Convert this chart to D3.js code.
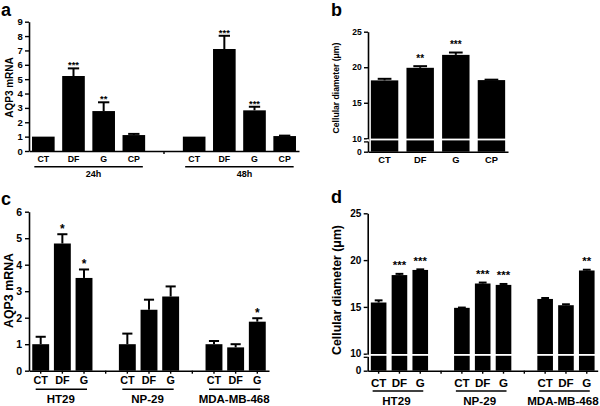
<!DOCTYPE html>
<html><head><meta charset="utf-8">
<script src="https://cdn.jsdelivr.net/npm/d3@7"></script>
<style>
body{margin:0;background:#fff}
svg{display:block}
text{font-family:"Liberation Sans",Arial,sans-serif;font-weight:bold;fill:#000}
</style>
</head><body><svg id="chart" width="600" height="406"></svg>
<script>
// ---------- data ----------
const catsA = ["CT","DF","G","CP"];
const groupsA = ["24h","48h"];
const meanA = [[1.0,5.22,2.78,1.11],[1.0,7.1,2.83,1.04]];
const errA  = [[0,0.53,0.61,0.08],[0,0.92,0.25,0.03]];
const starsA = [["","***","**",""],["","***","***",""]];
const yTicksA = [0,1,2,3,4,5,6,7,8,9];

const catsB = ["CT","DF","G","CP"];
const meanB = [18.15,19.92,21.74,18.19];
const errB  = [0.22,0.23,0.33,0.06];
const starsB = ["","**","***",""];
const yTicksB = [0,10,15,20,25];

const catsC = ["CT","DF","G"];
const groupsC = ["HT29","NP-29","MDA-MB-468"];
const meanC = [[1.0,4.8,3.5],[1.0,2.3,2.8],[1.0,0.88,1.85]];
const errC  = [[0.28,0.35,0.32],[0.4,0.38,0.38],[0.12,0.12,0.13]];
const starsC = [["","*","*"],["","",""],["","","*"]];
const yTicksC = [0,1,2,3,4,5,6];

const catsD = ["CT","DF","G"];
const groupsD = ["HT29","NP-29","MDA-MB-468"];
const meanD = [[15.47,18.4,18.95],[14.9,17.5,17.35],[15.85,15.18,18.89]];
const errD  = [[0.23,0.13,0.06],[0.03,0.1,0.1],[0.1,0.1,0.08]];
const starsD = [["","***","***"],["","***","***"],["","","**"]];
const yTicksD = [0,10,15,20,25];

// ---------- drawing ----------
const svg = d3.select("#chart");

function panel(o){
  const g = svg.append("g");
  const slots = [], items = [];
  o.groups.forEach((gr,gi)=>{
    if(gi>0) slots.push("gap"+gi);
    o.cats.forEach((c,ci)=>{
      const k = gi+"|"+c;
      slots.push(k);
      items.push({k, gi, c, v:o.mean[gi][ci], e:o.err[gi][ci], s:o.stars[gi][ci]});
    });
  });
  const x = d3.scaleBand().domain(slots).range(o.xRange).paddingInner(o.padIn).paddingOuter(o.padOut);
  const y = d3.scaleLinear().domain(o.yDomain).range(o.yRange);
  const bw = x.bandwidth();
  const y0 = y(0);

  // bars
  g.selectAll("rect.bar").data(items).enter().append("rect")
    .attr("x", d=>x(d.k)).attr("width", bw)
    .attr("y", d=>y(d.v)).attr("height", d=>y0-y(d.v)).attr("fill","#000");

  // error bars
  const eb = items.filter(d=>d.e>0);
  g.selectAll("line.ev").data(eb).enter().append("line")
    .attr("x1", d=>x(d.k)+bw/2).attr("x2", d=>x(d.k)+bw/2)
    .attr("y1", d=>y(d.v)).attr("y2", d=>y(d.v+d.e))
    .attr("stroke","#000").attr("stroke-width",o.ebw);
  g.selectAll("line.ec").data(eb).enter().append("line")
    .attr("x1", d=>x(d.k)+bw/2-bw*o.cap/2).attr("x2", d=>x(d.k)+bw/2+bw*o.cap/2)
    .attr("y1", d=>y(d.v+d.e)).attr("y2", d=>y(d.v+d.e))
    .attr("stroke","#000").attr("stroke-width",o.ebw);

  // stars
  g.selectAll("text.star").data(items.filter(d=>d.s)).enter().append("text")
    .attr("x", d=>x(d.k)+bw/2).attr("y", d=>y(d.v+d.e)-o.starOff)
    .attr("text-anchor","middle").style("font-size",o.starFs+"px").text(d=>d.s);

  // axis break (white line through bars)
  if(o.brk){
    g.append("rect").attr("x", o.xRange[0]).attr("width", o.xRange[1]-o.xRange[0])
      .attr("y", y(10)+0.3).attr("height", 1.8).attr("fill","#fff");
  }

  // y axis
  const ya = g.append("g").attr("transform",`translate(${o.xRange[0]},0)`)
    .call(d3.axisLeft(y).tickValues(o.yTicks).tickFormat(d3.format("d"))
      .tickSize(4).tickSizeOuter(0).tickPadding(o.yPad));
  ya.select(".domain").attr("stroke-width",1.6);
  ya.selectAll(".tick line").attr("stroke-width",1.4);
  ya.selectAll("text").style("font-size",o.yFs+"px").attr("font-family",null);
  if(o.brk){
    g.append("rect").attr("x", o.xRange[0]-1.2).attr("width",2.4)
      .attr("y", y(10)+1).attr("height",2.2).attr("fill","#fff");
    g.append("line").attr("x1",o.xRange[0]-4).attr("x2",o.xRange[0])
      .attr("y1",y(10)+3.6).attr("y2",y(10)+3.6).attr("stroke","#000").attr("stroke-width",1.3);
  }

  // x axis
  const xa = g.append("g").attr("transform",`translate(0,${y0})`)
    .call(d3.axisBottom(x).tickValues(items.map(d=>d.k)).tickFormat(k=>k.split("|")[1])
      .tickSize(o.xTick).tickSizeOuter(0).tickPadding(o.xPad));
  xa.select(".domain").attr("stroke-width",1.6);
  xa.selectAll(".tick line").attr("stroke-width",1.4);
  xa.selectAll("text").style("font-size",o.xFs+"px").attr("font-family",null);
  // gap ticks
  g.selectAll("line.gap").data(slots.filter(s=>s.startsWith("gap"))).enter().append("line")
    .attr("x1", s=>x(s)+bw/2).attr("x2", s=>x(s)+bw/2)
    .attr("y1", y0).attr("y2", y0+3).attr("stroke","#000").attr("stroke-width",1.4);

  // group lines & labels
  o.groups.forEach((gr,gi)=>{
    if(!gr) return;
    const first = x(gi+"|"+o.cats[0])+bw/2, last = x(gi+"|"+o.cats[o.cats.length-1])+bw/2;
    g.append("line").attr("x1", first+o.gl[0]).attr("x2", last+o.gl[1])
      .attr("y1", o.gLineY).attr("y2", o.gLineY).attr("stroke","#000").attr("stroke-width",1.5);
    g.append("text").attr("x",(first+last)/2+o.gOff).attr("y",o.gTextY)
      .attr("text-anchor","middle").style("font-size",o.gFs+"px").text(gr);
  });

  // y label
  g.append("text").attr("transform",`translate(${o.ylX},${o.ylY}) rotate(-90)`)
    .attr("text-anchor","middle").style("font-size",o.ylFs+"px").text(o.yLabel);
  // panel letter
  g.append("text").attr("x",o.letter[1]).attr("y",o.letter[2]).style("font-size","18px").text(o.letter[0]);
}

panel({groups:groupsA, cats:catsA, mean:meanA, err:errA, stars:starsA,
  yDomain:[0,9], yRange:[151,21.7], yTicks:yTicksA, xRange:[29,299], padIn:0.25, padOut:0.1,
  ebw:2, cap:0.5, starOff:0, starFs:9.4, brk:false, yPad:2.3, yFs:9.5, xTick:0, xPad:4.7, xFs:8.8,
  gl:[-9,9], gLineY:166.7, gTextY:176.7, gOff:5, gFs:9,
  yLabel:"AQP3 mRNA", ylX:12.5, ylY:87.5, ylFs:10, letter:["a",1,15.5]});

panel({groups:[""], cats:catsB, mean:[meanB], err:[errB], stars:[starsB],
  yDomain:[0,10,25], yRange:[151.7,138.3,31.7], yTicks:yTicksB, xRange:[368,508], padIn:0.23, padOut:0.08,
  ebw:2, cap:0.5, starOff:4.5, starFs:10, brk:true, yPad:2.3, yFs:8.5, xTick:0, xPad:5, xFs:9.3,
  gl:[0,0], gLineY:0, gTextY:0, gOff:0, gFs:9,
  yLabel:"Cellular diameter (\u03bcm)", ylX:338.5, ylY:88, ylFs:8.6, letter:["b",331,15.5]});

panel({groups:groupsC, cats:catsC, mean:meanC, err:errC, stars:starsC,
  yDomain:[0,6], yRange:[370.7,211.7], yTicks:yTicksC, xRange:[29,269], padIn:0.22, padOut:0.15,
  ebw:2, cap:0.6, starOff:1.5, starFs:12, brk:false, yPad:3, yFs:10.5, xTick:3, xPad:3, xFs:10.8,
  gl:[-5,3], gLineY:389.3, gTextY:403.3, gOff:-1.5, gFs:11.5,
  yLabel:"AQP3 mRNA", ylX:13, ylY:290.5, ylFs:12.4, letter:["c",1,204.5]});

panel({groups:groupsD, cats:catsD, mean:meanD, err:errD, stars:starsD,
  yDomain:[0,10,25], yRange:[370.7,353.7,213.3], yTicks:yTicksD, xRange:[367.7,597.7], padIn:0.25, padOut:0.15,
  ebw:2, cap:0.5, starOff:4.8, starFs:11.4, brk:true, yPad:2.3, yFs:10, xTick:3, xPad:4.8, xFs:11.6,
  gl:[-6,3], gLineY:391, gTextY:405, gOff:-3, gFs:11.6,
  yLabel:"Cellular diameter (\u03bcm)", ylX:341, ylY:290, ylFs:12.3, letter:["d",331,203]});
</script>
</body></html>
